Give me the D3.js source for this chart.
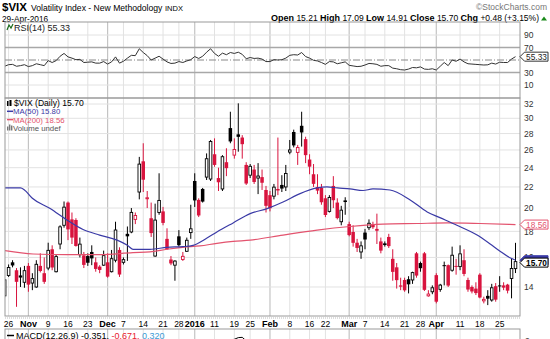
<!DOCTYPE html>
<html><head><meta charset="utf-8">
<script src="https://cdn.jsdelivr.net/npm/d3@7"></script>
<style>
body{margin:0;background:#fff;}
svg{display:block;font-family:"Liberation Sans",Arial,sans-serif;}
</style></head><body>
<svg id="c" width="550" height="339"></svg>
<script>
// ---------- DATA ----------
const opens  = [13.45,14.75,15.65,15.1,14.75,14.3,15.4,14.25,14.0,15.4,14.9,15.25,16.6,15.0,17.0,18.5,20.5,19.0,18.95,16.2,16.15,16.1,16.4,15.65,15.35,15.45,15.65,15.0,15.8,16.55,15.65,17.8,17.95,19.0,21.5,24.7,20.9,19.1,16.1,19.6,19.7,17.4,15.85,15.45,17.6,15.85,16.45,17.9,22.6,20.75,21.8,23.0,22.8,25.5,22.9,21.8,24.6,28.7,25.4,27.9,27.5,24.3,23.2,23.8,22.9,23.0,21.7,21.2,21.1,21.8,22.2,22.0,25.75,28.2,25.7,29.0,27.3,24.9,23.3,22.0,21.9,20.9,19.7,22.1,20.5,18.8,20.7,18.6,17.95,17.1,16.4,17.9,18.3,18.6,18.2,17.2,17.05,17.55,15.9,15.3,14.1,14.45,14.5,14.45,16.3,15.6,16.3,13.45,13.7,14.77,13.85,15.45,15.45,15.1,15.4,15.35,15.8,14.45,14.0,13.9,14.8,13.15,13.45,13.2,14.05,14.1,14.1,14.15,14.55,15.21];
const highs  = [14.5,15.5,15.8,15.25,15.3,15.4,15.6,14.9,15.8,16.3,16.0,17.1,16.9,16.2,18.5,20.6,20.6,19.6,19.1,17.5,16.4,16.3,16.9,16.0,15.45,16.5,16.3,16.55,18.8,16.75,16.0,18.4,20.0,19.6,25.2,26.8,21.6,20.5,20.4,23.4,20.1,18.25,16.1,15.8,18.1,16.4,17.5,20.3,23.4,20.9,21.9,25.6,27.2,27.4,24.0,25.4,26.2,30.9,27.4,32.1,27.8,24.6,24.4,24.3,24.5,23.8,22.1,21.6,22.3,27.5,23.2,24.3,27.2,28.5,26.6,30.9,27.6,25.5,24.4,23.3,22.3,21.2,21.2,23.1,20.9,20.2,21.0,18.8,18.5,17.4,17.2,18.2,19.0,18.8,19.5,17.5,17.2,17.8,16.6,15.6,14.6,14.6,14.7,15.0,16.4,15.7,16.4,13.8,14.1,14.9,14.2,15.7,15.5,16.8,15.9,16.9,16.6,14.6,14.1,14.3,14.9,13.4,13.8,14.2,14.25,14.7,14.3,14.2,15.9,17.09];
const lows   = [13.35,14.65,15.3,12.8,14.0,13.95,13.7,13.8,13.95,14.95,14.2,15.1,15.1,14.95,16.6,18.3,17.3,17.0,16.8,16.0,15.25,15.4,15.45,15.0,14.9,15.4,14.6,14.95,15.65,14.65,15.5,15.75,17.85,18.6,20.8,21.5,20.0,17.55,16.05,19.4,18.5,16.55,15.45,14.4,16.8,15.75,16.4,17.4,20.1,19.2,20.5,22.7,22.6,24.1,21.6,21.6,23.1,26.8,25.0,25.8,25.0,22.2,22.9,22.3,21.3,21.7,19.6,19.7,20.8,21.2,21.5,21.6,25.5,26.3,24.3,26.4,24.5,23.3,22.0,21.3,20.3,19.2,19.6,20.0,19.0,18.5,19.4,17.6,16.8,16.4,15.9,16.6,18.1,18.2,17.0,16.3,16.8,16.7,14.4,13.9,13.8,13.7,13.6,14.2,14.6,15.0,13.75,13.4,13.55,13.0,13.7,14.1,14.0,15.0,14.8,15.1,14.7,13.7,13.6,13.5,13.3,13.0,12.9,13.1,13.1,13.7,13.8,13.6,13.3,14.91];
const closes = [14.46,15.29,15.43,14.33,14.61,15.07,14.15,14.54,15.51,15.05,14.33,16.52,15.29,16.06,18.37,20.08,18.16,17.5,16.85,16.99,15.47,15.62,15.93,15.19,15.12,16.13,14.67,15.91,18.11,14.81,15.84,17.60,19.61,19.34,24.39,22.73,20.95,17.86,18.94,20.70,18.7,16.60,15.57,15.74,16.91,16.08,17.29,18.21,20.70,19.34,20.59,24.99,27.01,24.30,22.47,25.22,23.95,27.02,26.05,27.59,26.69,22.34,24.15,22.50,23.11,22.42,20.20,19.98,21.98,21.65,21.84,23.38,26.00,26.54,26.29,28.14,25.40,24.11,22.31,21.64,20.53,19.38,20.98,20.72,19.11,19.81,20.55,17.70,17.09,16.70,16.86,17.35,18.67,18.34,18.05,16.50,16.92,16.84,14.99,14.44,14.02,13.79,14.17,14.94,14.74,15.24,13.82,13.56,13.95,13.10,14.12,15.42,14.09,16.16,15.36,16.26,14.85,13.84,13.72,13.62,13.35,13.24,13.28,13.95,13.22,14.08,13.96,13.77,15.22,15.70];
const prevClose = 14.45;

const rsiValues = [40,42.5,43,40,41,42.5,39.5,41,44,42.5,41,49,46,49,56,60.5,55,53,50.5,51,46,46.5,47,45,45,47.5,43.5,47,55,45,48,53,57.5,57,68,62,57,50,53,56,51.5,47,44.5,45,47.5,46,48.5,50.5,55.5,52.5,56,62.5,68,60.5,56,61,58.5,62,60.5,62.5,59,52,54,52.5,53,51.5,47.5,47.5,50.5,50,50.5,53,57.5,58.5,58,62,55.5,53,49.5,48.5,46,43,47.5,47,44,45.5,47,41.5,40.5,39.5,40,42,44.5,44,43,40,41,41,37,36,34.5,34,35.5,38,37.5,39,35.5,35,36,34,40,46,41,50,48,51.5,47,44,43.5,43,42.5,42,42.3,45,43.5,46.5,46,46,51.5,55.33];

const ma50Idx = [0,4,5,7,11.5,15.7,19.8,24,28.4,31,32.4,36.7,41,45,47.6,51,53.6,57.7,62,66.3,70.3,74.6,78.9,81.4,84,87.2,90.5,93,97.3,102.4,106.7,109.9,114.2,119.3,122.6,125.1,127.6,129];
const ma50Val = [21.9,21.9,21.7,20.9,19.95,18.95,18.15,17.7,17.3,16.9,16.6,16.6,16.75,16.8,16.9,17.45,17.95,18.7,19.5,19.95,20.55,21.35,21.9,22.0,21.9,21.8,21.65,21.8,21.7,20.75,19.65,19.15,18.5,17.7,17.0,16.45,15.98,15.80];
const ma200Idx = [0,7.2,15.7,24.1,32.4,36.7,41,45,49.3,53.6,57.7,62,70.3,78.9,87.2,95.5,104.1,111.8,120,129];
const ma200Val = [16.5,16.25,16.2,16.2,16.35,16.4,16.6,16.75,16.85,17.05,17.2,17.3,17.7,18.1,18.4,18.6,18.65,18.7,18.65,18.56];

const tickIdx  = [1,6,11,16,21,26,30,35,40,44,48,53,58,62,67,72,77,81,87,91,96,101,105,109,115,120,125];
const tickText = ["26","Nov","9","16","23","Dec","7","14","21","28","2016","11","19","25","Feb","8","16","22","Mar","7","14","21","28","Apr","11","18","25"];
const monthTicks = ["Nov","Dec","2016","Feb","Mar","Apr"];
const priceTicks = [14,16,18,20,22,24,26,28,30,32];
const rsiTicks = [90,70,30,10];

// ---------- LAYOUT ----------
const svg = d3.select("#c");
const L = 5, R = 520;
const rsiTop = 22, rsiBot = 98, pTop = 98, pBot = 316, mTop = 329;
const RED = "#d8143e", BLK = "#000";
const x = d3.scaleLinear().domain([0,129]).range([4.64,515.5]);
const y = d3.scaleLog().domain([12.28,32.88]).range([pBot,pTop]);
const yr = d3.scaleLinear().domain([0,100]).range([91.25,28.75]);

const defs = svg.append("defs");
defs.append("clipPath").attr("id","cp").append("rect").attr("x",L).attr("y",pTop).attr("width",R-L).attr("height",pBot-pTop);
defs.append("clipPath").attr("id","cr").append("rect").attr("x",L).attr("y",rsiTop).attr("width",R-L).attr("height",rsiBot-rsiTop);
defs.append("clipPath").attr("id","cm").append("rect").attr("x",L).attr("y",mTop).attr("width",R-L).attr("height",339-mTop);

// ---------- HEADER ----------
const h = svg.append("g");
h.append("text").attr("x",2).attr("y",11).attr("font-size",11.5).attr("font-weight","bold").text("$VIX");
h.append("text").attr("x",31).attr("y",11).attr("font-size",8.6).text("Volatility Index - New Methodology");
h.append("text").attr("x",165).attr("y",11).attr("font-size",7.5).text("INDX");
h.append("text").attr("x",547).attr("y",10).attr("font-size",8.5).attr("fill","#777").attr("text-anchor","end").text("\u00A9StockCharts.com");
h.append("text").attr("x",2).attr("y",21.5).attr("font-size",8.3).text("29-Apr-2016");
const hv = h.append("text").attr("x",539).attr("y",21).attr("font-size",8.5).attr("text-anchor","end");
[["Open",1],[" 15.21 ",0],["High",1],[" 17.09 ",0],["Low",1],[" 14.91 ",0],["Close",1],[" 15.70 ",0],["Chg",1],[" +0.48 (+3.15%)",0]].forEach(([t,b])=>{
  hv.append("tspan").attr("font-weight",b?"bold":"normal").attr("font-size",b?9:8.5).text(t);
});
h.append("path").attr("d","M541,20.5 L547,20.5 L544,16.5 Z").attr("fill","#1a8a1a");

// ---------- GRIDS ----------
function vgrid(top,bot){
  tickIdx.forEach((k,i)=>{
    const m = monthTicks.includes(tickText[i]);
    svg.append("line").attr("x1",x(k)).attr("x2",x(k)).attr("y1",top).attr("y2",bot)
      .attr("stroke",m?"#c4c4c4":"#e2e2e2").attr("stroke-width",m?1.2:1);
  });
}
vgrid(rsiTop,rsiBot); vgrid(pTop,pBot); vgrid(mTop,339);

priceTicks.forEach(p=>{
  svg.append("line").attr("x1",L).attr("x2",R).attr("y1",y(p)).attr("y2",y(p)).attr("stroke","#e2e2e2");
  svg.append("text").attr("x",524).attr("y",y(p)+(p===18?4:3)).attr("font-size",8.5).attr("fill","#333").text(p);
});
[90,10].forEach(v=>svg.append("line").attr("x1",L).attr("x2",R).attr("y1",yr(v)).attr("y2",yr(v)).attr("stroke","#e2e2e2"));
[70,30].forEach(v=>svg.append("line").attr("x1",L).attr("x2",R).attr("y1",yr(v)).attr("y2",yr(v)).attr("stroke","#a8a8a8").attr("stroke-width",1.6));
svg.append("line").attr("x1",L).attr("x2",R).attr("y1",yr(50)).attr("y2",yr(50)).attr("stroke","#888").attr("stroke-dasharray","7,2,1,2");
rsiTicks.forEach(v=>svg.append("text").attr("x",524).attr("y",yr(v)+3).attr("font-size",8.5).attr("fill","#333").text(v));

// ---------- RSI ----------
svg.append("path").attr("clip-path","url(#cr)")
  .attr("d", d3.line().x((d,i)=>x(i)).y(d=>yr(d))(rsiValues))
  .attr("fill","none").attr("stroke","#333").attr("stroke-width",1);

// ---------- CANDLES ----------
const cg = svg.append("g").attr("clip-path","url(#cp)");
closes.forEach((c,i)=>{
  const o = opens[i], hi = highs[i], lo = lows[i];
  const pc = i===0 ? prevClose : closes[i-1];
  const col = c >= pc ? BLK : RED;
  const cx = x(i);
  cg.append("line").attr("x1",cx).attr("x2",cx).attr("y1",y(hi)).attr("y2",y(lo)).attr("stroke",col).attr("stroke-width",1);
  const top = y(Math.max(o,c)), bot = y(Math.min(o,c));
  const hgt = Math.max(bot-top,1);
  if (c >= o) {
    cg.append("rect").attr("x",cx-1.3).attr("y",top).attr("width",2.6).attr("height",hgt)
      .attr("fill","#fff").attr("stroke",col).attr("stroke-width",0.9);
  } else {
    cg.append("rect").attr("x",cx-1.75).attr("y",top).attr("width",3.5).attr("height",hgt).attr("fill",col);
  }
});

// ---------- MAs ----------
const maLine = d3.line().x(d=>x(d[0])).y(d=>y(d[1])).curve(d3.curveMonotoneX);
cg.append("path").attr("d",maLine(ma200Idx.map((k,i)=>[k,ma200Val[i]]))).attr("fill","none").attr("stroke","#e3536e").attr("stroke-width",1.2);
cg.append("path").attr("d",maLine(ma50Idx.map((k,i)=>[k,ma50Val[i]]))).attr("fill","none").attr("stroke","#3a3aa6").attr("stroke-width",1.2);

// ---------- MACD (computed from closes) ----------
function ema(arr,n){const a=2/(n+1);const out=[];arr.forEach((v,i)=>out.push(i?a*v+(1-a)*out[i-1]:v));return out;}
const e12 = ema(closes,12), e26 = ema(closes,26);
const macd = closes.map((c,i)=>e12[i]-e26[i]);
const ym = d3.scaleLinear().domain([2,3]).range([341,331]);
svg.append("path").attr("clip-path","url(#cm)").attr("d",d3.line().x((d,i)=>x(i)).y(d=>ym(d))(macd))
  .attr("fill","none").attr("stroke","#000").attr("stroke-width",1);

// ---------- PANEL BORDERS ----------
[[rsiTop,rsiBot],[pTop,pBot],[mTop,345]].forEach(([t,b])=>{
  svg.append("rect").attr("x",L).attr("y",t).attr("width",R-L).attr("height",b-t).attr("fill","none").attr("stroke","#9a9a9a").attr("stroke-width",1);
});
svg.append("line").attr("x1",L).attr("x2",R).attr("y1",pBot+2).attr("y2",pBot+2).attr("stroke","#bbb").attr("stroke-dasharray","1,1");

// ---------- X AXIS LABELS ----------
tickIdx.forEach((k,i)=>{
  const m = monthTicks.includes(tickText[i]);
  svg.append("text").attr("x",x(k)).attr("y",327).attr("text-anchor","middle")
    .attr("font-size",m?9:8.5).attr("font-weight",m?"bold":"normal").text(tickText[i]);
});
svg.append("text").attr("x",525).attr("y",344).attr("font-size",8.5).attr("fill","#333").text("2");

// ---------- LEGENDS ----------
const lg = svg.append("g");
lg.append("path").attr("d","M7,30 L9,25 L11,28 L13,24").attr("fill","none").attr("stroke","#186a18").attr("stroke-width",1.2);
lg.append("text").attr("x",14).attr("y",30.5).attr("font-size",9).attr("fill","#222").text("RSI(14) 55.33");
lg.append("rect").attr("x",7).attr("y",101).attr("width",1.5).attr("height",5).attr("fill","#000");
lg.append("rect").attr("x",9.5).attr("y",100).attr("width",2).attr("height",6).attr("fill","#000");
lg.append("text").attr("x",14).attr("y",106).attr("font-size",8.6).attr("fill","#000").text("$VIX (Daily) 15.70");
lg.append("line").attr("x1",7).attr("x2",13).attr("y1",111.3).attr("y2",111.3).attr("stroke","#3a3aa6").attr("stroke-width",1.5);
lg.append("text").attr("x",13).attr("y",114.4).attr("fill","#3a3aa6").attr("font-size",7.8).text("MA(50) 15.80");
lg.append("line").attr("x1",7).attr("x2",13).attr("y1",119.6).attr("y2",119.6).attr("stroke","#e3536e").attr("stroke-width",1.5);
lg.append("text").attr("x",13).attr("y",122.7).attr("fill","#e3536e").attr("font-size",7.8).text("MA(200) 18.56");
[[7,126.5,4],[9,124.5,6],[11,125.5,5]].forEach(([a,b,c])=>lg.append("rect").attr("x",a).attr("y",b).attr("width",1.4).attr("height",c).attr("fill","#777"));
lg.append("text").attr("x",13).attr("y",131).attr("fill","#555").attr("font-size",7.8).text("Volume undef");
lg.append("line").attr("x1",7).attr("x2",14).attr("y1",335.5).attr("y2",335.5).attr("stroke","#000").attr("stroke-width",1.5);
const mt = lg.append("text").attr("x",16).attr("y",338.5).attr("font-size",9);
mt.append("tspan").attr("fill","#000").text("MACD(12,26,9) -0.351, ");
mt.append("tspan").attr("fill","#e8202e").text("-0.671, ");
mt.append("tspan").attr("fill","#3b9bd6").text("0.320");

// ---------- VALUE TAGS ----------
function tag(yv,txt,stroke,fill,bold,tcol){
  const g = svg.append("g");
  g.append("path").attr("d",`M520,${yv} L524.5,${yv-4.5} L548,${yv-4.5} L548,${yv+4.5} L524.5,${yv+4.5} Z`)
    .attr("fill",fill).attr("stroke",stroke).attr("stroke-width",1);
  g.append("text").attr("x",536.5).attr("y",yv+3).attr("text-anchor","middle").attr("font-size",8.3)
    .attr("font-weight",bold?"bold":"normal").attr("fill",tcol).text(txt);
}
tag(yr(55.33),"55.33","#333","#fff",false,"#222");
tag(y(18.56),"18.56","#e3536e","#fff",false,"#e3536e");
tag(y(15.80),"","#3a3aa6","#3a3aa6",false,"#fff");
tag(y(15.70)+1,"15.70","#000","#fff",true,"#000");
</script>
</body></html>
